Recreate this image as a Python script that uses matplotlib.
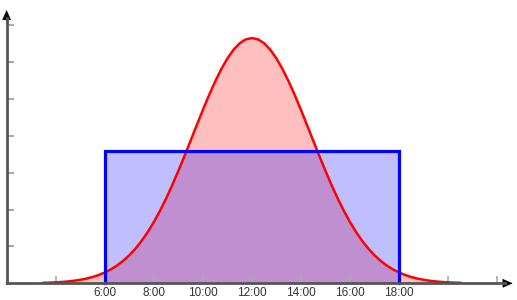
import matplotlib
matplotlib.use("Agg")
import matplotlib.pyplot as plt

# red curve, every quarter hour
curve_hours = [3.5, 3.75, 4, 4.25, 4.5, 4.75, 5, 5.25, 5.5, 5.75, 6, 6.25, 6.5, 6.75,
               7, 7.25, 7.5, 7.75, 8, 8.25, 8.5, 8.75, 9, 9.25, 9.5, 9.75, 10, 10.25,
               10.5, 10.75, 11, 11.25, 11.5, 11.75, 12, 12.25, 12.5, 12.75, 13, 13.25,
               13.5, 13.75, 14, 14.25, 14.5, 14.75, 15, 15.25, 15.5, 15.75, 16, 16.25,
               16.5, 16.75, 17, 17.25, 17.5, 17.75, 18, 18.25, 18.5, 18.75, 19, 19.25,
               19.5, 19.75, 20, 20.25, 20.5]
curve_vals = [0.013, 0.018, 0.026, 0.036, 0.050, 0.069, 0.095, 0.127, 0.170, 0.224,
              0.292, 0.377, 0.481, 0.608, 0.759, 0.938, 1.147, 1.386, 1.658, 1.962,
              2.296, 2.658, 3.045, 3.449, 3.866, 4.285, 4.699, 5.098, 5.470, 5.806,
              6.097, 6.333, 6.507, 6.614, 6.650, 6.614, 6.507, 6.333, 6.097, 5.806,
              5.470, 5.098, 4.699, 4.285, 3.866, 3.449, 3.045, 2.658, 2.296, 1.962,
              1.658, 1.386, 1.147, 0.938, 0.759, 0.608, 0.481, 0.377, 0.292, 0.224,
              0.170, 0.127, 0.095, 0.069, 0.050, 0.036, 0.026, 0.018, 0.013]

# blue block
block_hours = [6, 6, 18, 18]
block_vals = [0, 3.59, 3.59, 0]

tick_hours = [4, 6, 8, 10, 12, 14, 16, 18, 20, 22]
tick_labels = ['', '6:00', '8:00', '10:00', '12:00', '14:00', '16:00', '18:00', '', '']

plt.rcParams['font.family'] = ['Liberation Sans', 'DejaVu Sans']

fig = plt.figure(figsize=(5.17, 3.0), dpi=100)
W, H = 517, 300
x0, x1 = 6.6, 512.7
y0, y1 = 283.3, 10
ax = fig.add_axes([x0 / W, 1 - y0 / H, (x1 - x0) / W, (y0 - y1) / H])
ax.set_xlim(2, 22.63)
ax.set_ylim(0, 7.41)

ax.fill_between(curve_hours, curve_vals, color=(1, 0, 0, 0.25), lw=0)
ax.fill(block_hours, block_vals, color=(0, 0, 1, 0.25), lw=0)
ax.plot(curve_hours, curve_vals, color='#ff0000', lw=1.8, clip_on=False, zorder=3)
ax.plot(block_hours, block_vals, color='#0000ff', lw=2.3, solid_joinstyle='miter',
        clip_on=False, zorder=4)

for s in ax.spines.values():
    s.set_visible(False)

ax.set_xticks(tick_hours)
ax.set_xticklabels(tick_labels, fontsize=8.5, color='#333333')
ax.set_yticks(range(1, 8))
ax.set_yticklabels([])
ax.tick_params(axis='x', direction='in', length=5, width=1.2, color='#aaaaaa', pad=3)
ax.tick_params(axis='y', direction='in', length=5, width=1.2, color='#999999')

# axis lines, then black arrow heads
ax.plot([0, 0.985], [0, 0], color='#555555', lw=2, transform=ax.transAxes,
        clip_on=False, zorder=5)
ax.plot([0, 0], [0, 0.97], color='#555555', lw=2, transform=ax.transAxes,
        clip_on=False, zorder=5)
head = dict(arrowstyle='-|>,head_length=0.8,head_width=0.35', color='black', lw=0.5,
            mutation_scale=8, shrinkA=0, shrinkB=0)
ax.annotate('', xy=(1.0, 0), xytext=(0.97, 0), xycoords='axes fraction', arrowprops=head)
ax.annotate('', xy=(0, 1.0), xytext=(0, 0.95), xycoords='axes fraction', arrowprops=head)

fig.savefig('out.png', dpi=100)
